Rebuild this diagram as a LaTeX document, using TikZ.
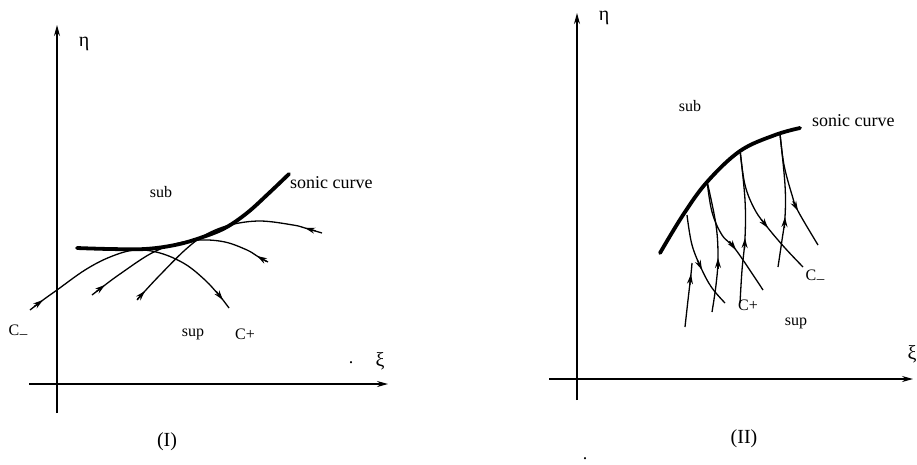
\documentclass[tikz,border=0pt]{standalone}
\usepackage{fontspec}
\setmainfont{Liberation Serif}
\usetikzlibrary{arrows.meta,calc}
\tikzset{
  thinline/.style={line width=1.3pt},
  sonic/.style={line width=3.8pt,line cap=round},
  axisline/.style={line width=1.3pt,-{Stealth[length=11pt,width=6pt]}},
  tipstyle/.style={line width=1.3pt,-{Stealth[length=10pt,width=6pt]}},
  lbl/.style={inner sep=0pt,font=\fontsize{18}{20}\selectfont},
  slbl/.style={inner sep=0pt,font=\fontsize{16}{18}\selectfont},
}
% #1 tip point on curve, #2 curve point behind it, #3 curve point ahead of it
\newcommand{\tipat}[3]{%
  \coordinate (tipaux) at ($#1+#2-#3$);
  \draw[tipstyle] ($#1!11pt!(tipaux)$) -- #1;}
\newcommand{\Cminus}{C\kern0.5pt\raisebox{-3pt}{\fontsize{15}{15}\selectfont –}}
\begin{document}
\begin{tikzpicture}[x=1pt,y=-1pt]
\useasboundingbox (0,0) rectangle (917,464);
% ---------- panel I ----------
\coordinate (Lyb) at (57,413); \coordinate (Lyt) at (57,25);
\coordinate (Lxl) at (29,384); \coordinate (Lxr) at (388,384);
\draw[axisline] (Lyb) -- (Lyt);
\draw[axisline] (Lxl) -- (Lxr);
\node[lbl,font=\fontsize{20}{22}\selectfont] (Leta) at (84,44) {η};
\node[lbl,font=\fontsize{20}{22}\selectfont] (Lxi) at (380,361) {ξ};
\node[lbl] (Ldot) at (351,363) {.};
\node[lbl,font=\fontsize{20}{22}\selectfont] (LI) at (167,442) {(I)};
\node[slbl] (Lsub) at (161,192) {sub};
\node[slbl] (Lsup) at (193,334) {sup};
\node[slbl] (LCp) at (245,334) {C+};
\node[slbl] (LCm) at (18,332) {\Cminus};
\node[lbl,anchor=west] (Lsonic) at (290,183) {sonic curve};
% characteristics
\draw[thinline] plot[smooth,tension=0.6] coordinates
  {(30,310) (43,300) (57,290) (85,270) (110,257) (135,250) (160,253) (185,264) (205,280) (218,294) (223,300) (229,308)};
\tipat{(43,300)}{(30,310)}{(57,290)}
\tipat{(223,300)}{(218,294)}{(229,308)}
\draw[thinline] plot[smooth,tension=0.6] coordinates
  {(92,295) (105,285) (120,274) (150,254) (175,244) (200,240) (225,242) (247,250) (257,256) (268,262)};
\tipat{(105,285)}{(92,295)}{(120,274)}
\tipat{(257,256)}{(268,262)}{(247,250)}
\draw[thinline] plot[smooth,tension=0.6] coordinates
  {(137,300) (145,291) (160,275) (185,250) (205,235) (230,225) (260,221) (293,225) (305,228) (322,233)};
\tipat{(145,291)}{(137,300)}{(160,275)}
\tipat{(305,228)}{(322,233)}{(293,225)}
\draw[sonic] plot[smooth,tension=0.6] coordinates
  {(77,248) (110,249) (145,249) (175,245) (200,238) (225,228) (247,213) (268,194) (289,174)};
% ---------- panel II ----------
\coordinate (Ryb) at (577,400); \coordinate (Ryt) at (577,13);
\coordinate (Rxl) at (549,379); \coordinate (Rxr) at (913,379);
\draw[axisline] (Ryb) -- (Ryt);
\draw[axisline] (Rxl) -- (Rxr);
\node[lbl,font=\fontsize{20}{22}\selectfont] (Reta) at (604,18) {η};
\node[lbl,font=\fontsize{20}{22}\selectfont] (Rxi) at (912,354) {ξ};
\node[lbl] (Rdot) at (585,459) {.};
\node[lbl,font=\fontsize{20}{22}\selectfont] (RII) at (744,439) {(II)};
\node[slbl] (Rsub) at (690,106) {sub};
\node[slbl] (Rsup) at (796,323) {sup};
\node[slbl] (RCp) at (748,305) {C+};
\node[slbl] (RCm) at (815,277) {\Cminus};
\node[lbl,anchor=west] (Rsonic) at (812,121) {sonic curve};
% C- family
\draw[thinline] plot[smooth,tension=0.6] coordinates {(687,215) (692,245) (702,270) (712,288) (725,303)};
\tipat{(702,270)}{(692,245)}{(712,288)}
\draw[thinline] plot[smooth,tension=0.6] coordinates {(707,181) (712,212) (722,235) (736,250) (763,290)};
\tipat{(736,250)}{(722,235)}{(763,290)}
\draw[thinline] plot[smooth,tension=0.6] coordinates {(740,150) (745,185) (755,210) (768,228) (785,248) (803,267)};
\tipat{(768,228)}{(755,210)}{(785,248)}
\draw[thinline] plot[smooth,tension=0.6] coordinates {(780,134) (784,165) (792,195) (798,211) (818,245)};
\tipat{(798,211)}{(792,195)}{(818,245)}
% C+ family
\draw[thinline] plot[smooth,tension=0.6] coordinates {(685,327) (688,300) (691,274) (692,263)};
\tipat{(691,274)}{(688,300)}{(692,263)}
\draw[thinline] plot[smooth,tension=0.6] coordinates {(712,312) (716,285) (718,258) (716,225) (707,181)};
\tipat{(718,258)}{(716,285)}{(716,225)}
\draw[thinline] plot[smooth,tension=0.6] coordinates {(740,303) (742,270) (745,238) (745,200) (740,150)};
\tipat{(745,238)}{(742,270)}{(745,200)}
\draw[thinline] plot[smooth,tension=0.6] coordinates {(778,267) (782,240) (785,217) (785,185) (780,134)};
\tipat{(785,217)}{(782,240)}{(785,185)}
\draw[sonic] plot[smooth,tension=0.6] coordinates {(660,253) (683,215) (707,182) (740,151) (775,135) (800,128)};
\end{tikzpicture}
\end{document}
